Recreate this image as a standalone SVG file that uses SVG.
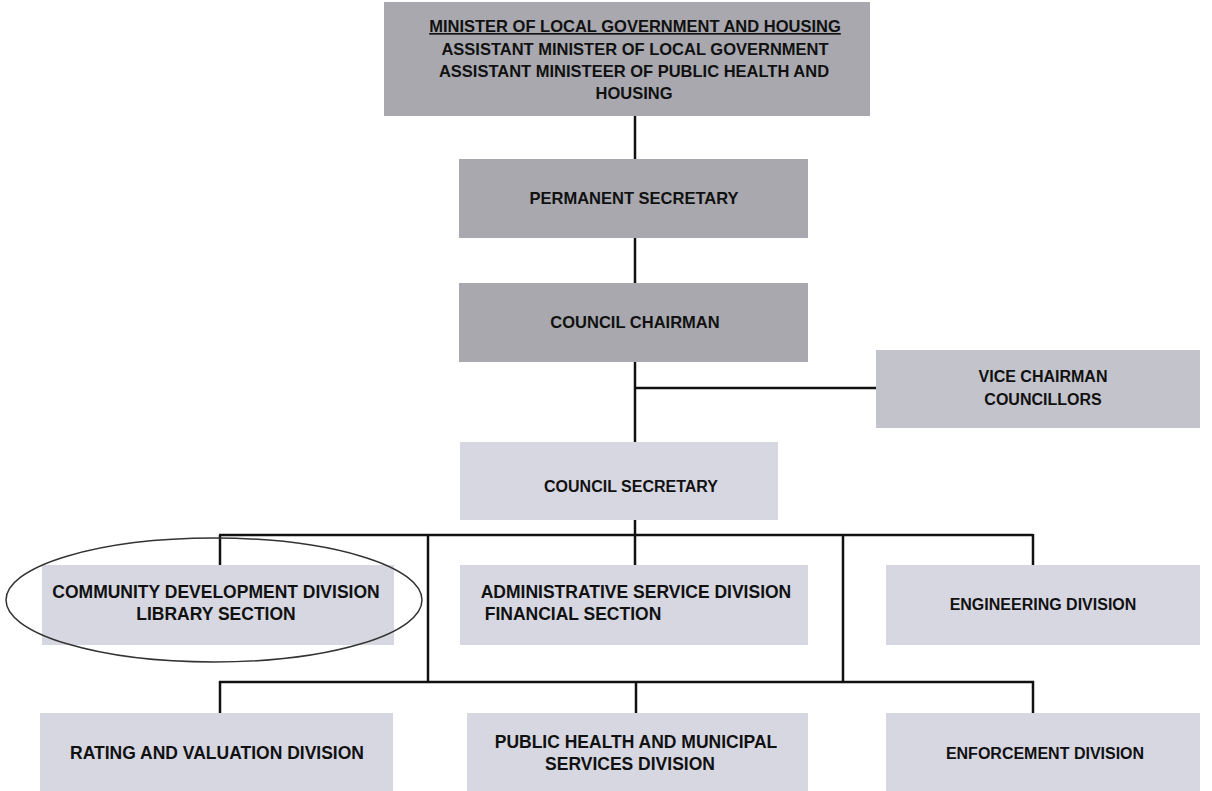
<svg xmlns="http://www.w3.org/2000/svg" width="1212" height="791" viewBox="0 0 1212 791">
<style>
.t{font-family:"Liberation Sans",Arial,sans-serif;font-weight:bold;font-size:16.5px;fill:#111;text-anchor:middle}
.s{font-size:16px}
.l{font-size:17.5px}
.dark{fill:#a8a8ae}
.mid{fill:#c3c3cc}
.light{fill:#d7d7e1}
.c{stroke:#111;stroke-width:2.5;fill:none}
</style>
<rect width="1212" height="791" fill="#ffffff"/>
<g id="connectors">
<line class="c" x1="635" y1="116" x2="635" y2="159"/>
<line class="c" x1="635" y1="238" x2="635" y2="283"/>
<line class="c" x1="635" y1="362" x2="635" y2="442"/>
<line class="c" x1="635" y1="388" x2="876" y2="388"/>
<line class="c" x1="635" y1="520" x2="635" y2="565"/>
<line class="c" x1="219" y1="535" x2="1033" y2="535"/>
<line class="c" x1="220" y1="535" x2="220" y2="565"/>
<line class="c" x1="1033" y1="534" x2="1033" y2="565"/>
<line class="c" x1="428" y1="535" x2="428" y2="682"/>
<line class="c" x1="843" y1="535" x2="843" y2="682"/>
<line class="c" x1="219" y1="682" x2="1034" y2="682"/>
<line class="c" x1="220" y1="681" x2="220" y2="713"/>
<line class="c" x1="636" y1="682" x2="636" y2="713"/>
<line class="c" x1="1033" y1="681" x2="1033" y2="713"/>
</g>
<g id="minister">
<rect class="dark" x="384" y="2" width="486" height="114"/>
<text class="t" x="635" y="32" text-decoration="underline">MINISTER OF LOCAL GOVERNMENT AND HOUSING</text>
<text class="t" x="635" y="55">ASSISTANT MINISTER OF LOCAL GOVERNMENT</text>
<text class="t" x="634" y="77">ASSISTANT MINISTEER OF PUBLIC HEALTH AND</text>
<text class="t" x="634" y="99">HOUSING</text>
</g>
<g id="permanent-secretary">
<rect class="dark" x="459" y="159" width="349" height="79"/>
<text class="t" x="634" y="204">PERMANENT SECRETARY</text>
</g>
<g id="council-chairman">
<rect class="dark" x="459" y="283" width="349" height="79"/>
<text class="t" x="635" y="328">COUNCIL CHAIRMAN</text>
</g>
<g id="vice-chairman">
<rect class="mid" x="876" y="350" width="324" height="78"/>
<text class="t s" x="1043" y="382">VICE CHAIRMAN</text>
<text class="t s" x="1043" y="405">COUNCILLORS</text>
</g>
<g id="council-secretary">
<rect class="light" x="460" y="442" width="318" height="78"/>
<text class="t s" x="631" y="492">COUNCIL SECRETARY</text>
</g>
<g id="community-development">
<rect class="light" x="42" y="565" width="352" height="80"/>
<text class="t l" x="216" y="598">COMMUNITY DEVELOPMENT DIVISION</text>
<text class="t l" x="216" y="620">LIBRARY SECTION</text>
<ellipse cx="214" cy="600" rx="208" ry="62" fill="none" stroke="#333" stroke-width="1.5"/>
</g>
<g id="administrative">
<rect class="light" x="460" y="565" width="348" height="80"/>
<text class="t l" x="636" y="598">ADMINISTRATIVE SERVICE DIVISION</text>
<text class="t l" x="573" y="620">FINANCIAL SECTION</text>
</g>
<g id="engineering">
<rect class="light" x="886" y="565" width="314" height="80"/>
<text class="t s" x="1043" y="610">ENGINEERING DIVISION</text>
</g>
<g id="rating">
<rect class="light" x="40" y="713" width="353" height="78"/>
<text class="t l" x="217" y="759">RATING AND VALUATION DIVISION</text>
</g>
<g id="public-health">
<rect class="light" x="467" y="713" width="341" height="78"/>
<text class="t l" x="636" y="748">PUBLIC HEALTH AND MUNICIPAL</text>
<text class="t l" x="630" y="770">SERVICES DIVISION</text>
</g>
<g id="enforcement">
<rect class="light" x="886" y="713" width="314" height="78"/>
<text class="t s" x="1045" y="759">ENFORCEMENT DIVISION</text>
</g>
</svg>
